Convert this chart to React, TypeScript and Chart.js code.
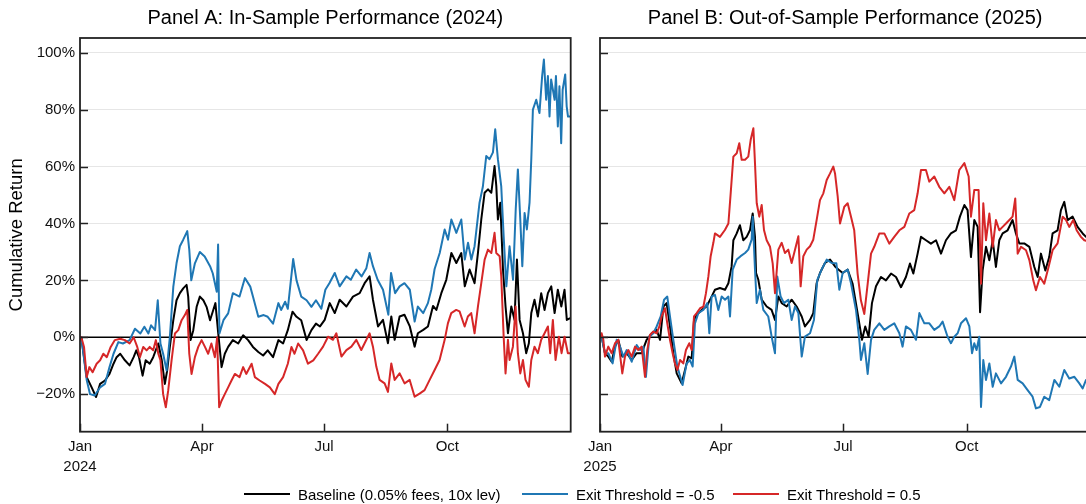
import React, { useEffect, useRef } from 'react';
import { Chart, registerables } from 'chart.js';

Chart.register(...registerables);

const FONT = '"Liberation Sans", Arial, Helvetica, sans-serif';
const BLACK = '#000000';
const BLUE = '#1f77b4';
const RED = '#d62728';

const seriesNames = ['Baseline (0.05% fees, 10x lev)', 'Exit Threshold = -0.5', 'Exit Threshold = 0.5'];

// ---------- Panel A (2024), x = day of year ----------
const aBaseDays = [0,1,5,8.7,12,15,18.6,22,25,27.3,30,33.5,37,40,42,44,46.7,49,52,54.6,58.4,61,63.3,65,67,69.6,72,74.5,77,79.5,80.7,82.5,84.5,87,89.4,92,94.4,97,99.4,101,103,105.6,108,110.5,114,118,121.7,125.4,129,133,136.6,140,144,148,151.5,155,158.5,161.5,165,169,172.6,176,179,182.5,186.3,190,193.7,198.7,203.6,208.6,212.3,216,218.5,222.3,226,229.7,232.2,234.7,238.4,242,246,249.6,252,256,259.5,263.3,265.8,269.5,273.2,277,280.7,284.4,287,290.6,294.3,296.8,299.3,301.8,304.3,306.8,309.2,310.5,311.7,313.5,315.5,317.4,319.2,321.7,324.1,325.9,327.9,330.4,332.8,334.8,336.6,339,341.5,344,346.5,349,351.5,354,356.4,359,361.4,363.1,365.6];
const aBaseVals = [0,0,-14,-17.6,-21,-16.4,-15.2,-12.9,-9.3,-7,-5.8,-8.1,-9.9,-7,-4.6,-7,-13.5,-8.1,-9.3,-7,-2.2,-8.1,-16.4,-11.7,-3.4,6,13,15.5,17.2,18.4,14.3,-1,2.5,10.7,14.3,13,10.7,6,9.6,12,1.9,-10.5,-5.8,-3.4,-1,-2.2,0.7,-1,-3.4,-5.2,-6.4,-4.6,-7,-1,-2.2,2.5,9,7.2,6,-1,2.5,4.8,3.8,6.1,12,8.5,13.2,10.8,14.3,15.5,19,21.4,13.2,3.8,6.1,-2.1,7.3,-0.9,7.3,7.9,3.8,-3.3,1.4,2.6,3.8,11,9.6,15.5,20.2,29.6,26.1,29.6,17.9,23.8,19,29.6,41.4,50.8,52,50.8,60.2,53.2,41.4,47.3,23.8,10.8,1.4,10.8,6.1,27.3,6.1,1.4,-5.6,-2.1,8.5,13.2,7.3,15.5,9.6,15.5,17.9,8.5,16.7,10.8,16.7,6.1,6.7];

const aBlueDays = [0,1,5,7.5,11,15,18.6,22,25,28.6,32,37,41,45,48,51,53,56,58,60,62,64.6,67,69.6,72,74.5,77,80,81.5,83,85.7,89.4,93,97,99,102,103,104,107,110.5,114,119,123,127,129,133,137,140,144,148,150,153,155,159,161.5,165,169,172.6,176,180,183,186,190,193.7,198.7,202,206,210,213.6,216,218.5,222,226,230,232,235,238.4,242,246,249.6,252,256,259.5,262,264.5,268.3,272,274.5,277,280.7,284.4,287,289.4,291.9,294.3,298,300.5,303,305.5,308,309.7,311.7,314.2,316,318,320.4,323,325,326.6,328.4,329.9,331.6,333.3,335.3,336.6,337.8,340.3,342.7,344.7,346,347.7,349,350.2,351.4,354,355,356.4,357.6,358.9,360,361.9,363,364,365.6];
const aBlueVals = [0,0,-15,-20,-20.5,-17.6,-16.4,-10.5,-5.8,-1.7,-2.2,-1,3,1.3,3.7,1.3,4.2,2.5,13,-2.2,-5.8,-11.7,0,17.8,26,32,34.3,37.3,30.8,20,26,30,28.4,25,22.5,16,32.6,1.3,6,8.4,15.5,14.3,20.8,17.8,14.3,7.2,7.8,7.2,4.8,12,9.6,12.5,10,27.5,20,14.3,13,10.7,13,10,16.7,19,22.6,17.9,21.4,20.2,23.8,21.4,24.3,29.6,25,20.2,16.7,7.9,22.6,15.5,17.9,19,16.7,5.5,10.8,8.5,12,16.7,24,29.6,37.9,34.3,41.4,36.7,41.4,27.3,33.2,27.3,32,47.3,53,63.7,62.6,65,73.1,62.6,53,35.5,17.9,32,20.2,45,59,41.4,25,43.7,37.9,47.3,62.6,80,83.5,78.8,91.8,97.6,83.5,91.8,77.6,90.6,83.5,91.8,74.1,88.2,68.2,87,92.4,81.2,77.6,77.6];

const aRedDays = [0,1,3,5,7,9.4,12.4,15,17.4,20,22.9,26,30,33.5,37,40,42.7,44.7,47.2,49.7,52,54.6,56.6,58.4,60,62,64,65.8,68.3,70.8,73.3,75.8,78.2,80,81.5,83.2,85.7,88.2,90.7,93.2,95.6,98,100.6,102.3,103.8,105.6,108,110.5,113,115.5,119,121.7,124,128,130.4,134,138,141.6,145.3,148,151.5,155,157.7,160,162.7,166.4,170,174,177.6,181.3,185,188.7,191.2,195,198.7,202.4,206.1,209.8,213.6,216,218.5,221,223.5,227.2,229.7,232.2,234.7,238.4,242.1,245.9,249.6,253.3,257,260.8,264.5,268.2,272,274.4,276.9,280.6,283.1,286.9,289.3,291.8,294.3,296.8,299.3,301.8,304.3,306.8,309.2,310.5,313,314.2,316,317.4,319.2,320.4,322.9,324.9,326.6,328.4,330.4,332.3,334.8,336.6,339,341.5,344,346.5,349,350.7,352.7,354.7,357.2,359.2,361.4,363.9,365.6];
const aRedVals = [0,0,-3.4,-14,-10.5,-12.3,-9.3,-8.1,-5.8,-7,-3.4,-1,-0.5,-1,-2.2,0,-3.4,-7,-3.4,-4.6,-3.4,-4.6,-1,-5.8,-8.1,-20,-24.6,-18.7,-8.1,1.3,2.5,6,7.8,9.6,-5.8,-12.9,-7,-3.4,-1,-3.4,-5.8,-2.2,-7,0,-24.6,-22.3,-20,-17.6,-15.2,-12.9,-14,-10.5,-12.9,-9.3,-14,-15.2,-16.4,-17.6,-20,-16.4,-14,-9.3,-3.4,-5.8,-2.2,-4.6,-9.3,-8.1,-5.8,-3.3,0.2,-0.9,1.4,-6.8,-4.5,-3.3,-0.9,-4.5,-0.9,1.4,-3.3,-10.3,-15,-16.2,-19.2,-9.2,-15,-12.7,-16.2,-15,-20.9,-19.8,-18.6,-15,-11.5,-8,-0.9,4.9,8.5,9.6,9.1,3.8,7.3,8.5,1.4,10.8,19,27.3,30.8,29.6,36.7,29.6,28.5,21.4,0.2,-12.7,-0.9,-8,-3.3,10.8,-5.6,-12.7,-8,-15,-17.4,-8,-3.3,-5.6,-0.9,1.4,3.8,-5.6,6.1,-8,0.2,-5.6,0.2,-5.6,-5.6];

// ---------- Panel B (2025), x = day of year ----------
const bBaseDays = [0,1.2,3.7,6.2,8.7,11.2,13.6,16.6,19.9,23.6,27.3,31,34.7,38.5,42.2,44.7,47.2,49.6,52.1,54.6,57.1,60.8,63.3,65.8,68.3,70,72,75.7,79.4,83.1,85.6,89.3,93.1,95.6,98,99.3,101.8,104.2,106.7,109.2,111.7,113.7,115.4,116.2,117.9,120.4,124.1,127.8,130.3,132.8,135.3,139,142.7,146.4,150.2,152.6,156.4,158.8,161.3,163.8,167.5,171.3,175,177.5,180.7,184.4,188.1,191.8,195.1,197.5,200,202.5,205.5,209.2,212.9,216.7,220.4,224.1,227.8,230.8,233.3,236.5,239,242.7,246.4,250.2,253.9,257.6,261.3,265.1,268,271.3,273.7,276.2,278.7,281.2,283,284.9,287.4,289.9,292.4,294.8,297.3,299.8,303.5,307.2,309.7,312.2,315.9,319.7,323.4,325.9,328.3,331.6,334.5,337,340.7,343.2,345.7,348.2,351.9,355.6,359.4,361.9,365];
const bBaseVals = [0,0.2,-5.6,-6.8,-8.6,-3.3,-0.9,-6.8,-5.6,-8,-5.6,-5.6,-0.9,1.4,2.6,-0.9,10.8,12,3.8,-5.6,-12.7,-16.2,-11.5,-6.8,-7.4,6.1,7.9,9.6,10.8,14.3,16.7,17.3,16.7,19,24.9,34.1,36.5,39.4,34.1,35.3,37.7,43.5,35.3,22.6,20.2,13.2,10.8,9.6,6.1,14.3,12,10.8,13.2,10.8,7.3,3.8,6.1,8.5,19,22.6,26.1,27.3,24.9,23.8,22.6,23.8,18.8,8.5,-0.9,3.8,0.2,12,17.9,21.2,20,22.4,21.2,17.6,21.2,25.9,22.4,29.4,35.3,34.1,32.9,34.1,29.4,34.1,36.5,37.6,42.4,46.5,44.7,28.2,41.2,38.8,8.8,23.5,31.8,27.1,34.1,24.7,34.1,36.5,37.6,41.2,36.5,33,33,31.8,24.7,21.2,29.4,23.5,28.2,36.5,37.6,44.7,47.6,41.2,42.4,38.8,36.5,35.3,35];

const bBlueDays = [0,1.2,3.7,6.2,9.4,12.4,14.9,17.4,19.9,23.6,27.3,29.8,32.3,34.2,36.7,39.7,42.2,45.2,47.7,50.1,52.1,54.6,57.6,61.5,64.5,67,69,70.7,73.2,76.9,79.9,81.4,83.1,85.6,88.1,90.6,93.1,95.6,96.8,98.8,101.8,104.7,108,110.4,112.9,113.7,115.4,116.7,119.1,121.6,125.3,127.8,130.3,132,134.5,137,140.2,142.7,145.2,147.7,150.2,152.6,156.4,159.3,161.8,165,168.8,172.5,176,178.2,180.7,184.4,186.9,190.6,193.1,194.3,196.8,199.3,201.8,204.2,208,211.7,215.4,219.1,222.9,225.3,227.8,231.5,235.3,237.8,241.5,245.2,248.9,252.6,255.1,258.8,261.3,263.8,266.3,268.8,272.5,275,277,278.7,280.4,282.4,283.7,285.4,287.4,289.9,292.4,294.8,298.6,302.3,306,308.5,311,314.7,318.4,322.1,324.6,327.6,330.8,334.5,338.3,342,345.7,349.4,353.2,356.9,359.4,361.9,365];
const bBlueVals = [0,0.2,-5.6,-5.6,-9.2,-0.9,-3.3,-6.8,-4.5,-8.6,-2.7,-4.5,-3.3,-13.9,0.2,1.4,3.8,7.3,13.2,14.3,7.3,-0.9,-10.3,-16.8,-9.2,-8,-10.3,4.9,8.5,9.6,12,1.4,14.3,14.9,9.6,14.3,13.2,14.3,7.3,23.8,27.3,28.5,29.6,30.8,34.3,42.4,23.8,12,16.7,9.6,7.3,0.2,-5.6,21.4,14.3,12,13.2,6.1,10.8,8.5,-6.8,0.2,1.4,6.1,20.2,23.8,27.3,26.1,26,16.7,22.6,23.8,19,9.6,-0.9,-8,-2.1,-12.9,-0.9,2.6,4.9,2.6,3.8,4.9,1.4,-3.3,3.8,2.6,-0.9,8.5,4.9,4.9,2.6,3.8,5.5,0.2,-2.1,0.2,1.4,4.9,6.7,3.8,-5.6,-2.1,-4.5,0.2,-24.5,-8,-15,-9.2,-17.4,-12.7,-16.2,-13.9,-10.3,-6.8,-15,-16.2,-18.6,-20.9,-25,-24.5,-20.9,-22.1,-15,-17.4,-11.5,-14.5,-13.9,-16.2,-18,-15,-16];

const bRedDays = [0,1.2,2.5,3.7,6.2,8.7,11.2,13.6,16.6,18.6,21.1,23.6,26.1,28.5,31,33.5,35.2,37.2,39.7,42.2,44.2,45.9,48.4,50.1,52.1,54.1,55.8,57.6,59.6,62,64,66.5,68.3,70,72,74.5,77,78.9,80.7,82.4,84.4,85.6,89.3,93,95.6,97.3,99.3,101.8,103.7,105.5,108,110.4,112.2,114.2,115.4,116.7,118.6,120.4,122.1,124.1,126.6,128.6,130.3,132.8,135.3,137.7,140.2,142.7,145.2,147.7,149.4,151.4,153.9,156.4,158.8,161.3,163.8,166.3,168.8,171.3,173.7,175,177,178.7,181.9,184.4,186.9,189.3,191.8,194.3,196.8,199.3,201.8,204.2,208,211.7,215.4,219.1,222.9,226.6,230.3,234,236.5,239,242.7,245.2,248.9,252.6,256.4,260.1,263.8,267.5,271.3,274.5,276.2,278.7,281.9,283.7,285.4,287.4,289.9,292.4,294.8,297.3,299.8,302.3,304.8,307.2,309.2,311,313.5,317.2,319.7,322.6,324.6,327.6,330.8,334,337,340.7,344.5,347,349.4,352.4,354.9,358.1,360.6,365];
const bRedVals = [0,1.4,-0.9,-6.8,-3.3,-5.6,-2.1,-0.9,-12.7,-6.8,-4.5,-6.8,-3.3,-4.5,-3.3,-13.9,-4.5,0.8,2,1.4,3.8,7.3,10.2,4.9,-0.9,-5.6,-9.2,-11.5,-8,-9.2,-4.5,-2.1,-4.5,7.3,8.5,10.2,10.8,15.5,21.4,28.5,33.2,36.5,35.3,37.7,40,50.6,63.5,64.7,68.2,62.4,62.4,63.5,69.4,73.5,61.2,47.1,42.4,46.5,37.7,34.1,31.8,25.9,15.5,30.8,33.2,29.6,30.8,26.1,30.8,35.5,17.9,28.5,30.8,32,34.3,41.2,48.2,50.6,55.3,57.6,60,57.6,49.4,40,45.9,47.1,42.4,37.6,22.4,12.9,8.2,18.8,29.4,31.8,36.5,36.5,32.9,35.3,37.6,38.8,43.5,44.7,50.6,58.8,58.8,54.7,56.5,52.9,50.6,52.9,48.2,58.8,61.2,56.5,42.4,51.8,51.8,18.8,47.1,34.1,43.5,31.8,41.2,37.6,38.8,40,41.2,42.4,48.8,29.4,31.8,30.6,27.1,20,16.5,21.2,18.8,24.7,30.6,33,42.4,41.2,38.8,41.2,37.6,35.3,34.1,33.5];

// ---------- axes ----------
const yMin = -33.2;
const yMax = 105.2;
const yTickValues = [-20, 0, 20, 40, 60, 80, 100];
const xTicksA = [0, 91, 182, 274];
const xLabelsA: (string | string[])[] = [['Jan', '2024'], 'Apr', 'Jul', 'Oct'];
const xMaxA = 366;
const xTicksB = [0, 90, 181, 273];
const xLabelsB: (string | string[])[] = [['Jan', '2025'], 'Apr', 'Jul', 'Oct'];
const xMaxB = 365;

const pts = (d: number[], v: number[]) => d.map((x, i) => ({ x, y: v[i] }));

const PLOT_BOTTOM = 431.7;
const CANVAS_H = 504;

const framePlugin = {
  id: 'panelFrame',
  beforeDatasetsDraw(chart: any) {
    const { ctx, chartArea: a } = chart;
    const y0 = chart.scales.y.getPixelForValue(0);
    ctx.save();
    ctx.strokeStyle = '#000';
    ctx.lineWidth = 1.5;
    ctx.beginPath();
    ctx.moveTo(a.left, y0);
    ctx.lineTo(a.right, y0);
    ctx.stroke();
    ctx.restore();
  },
  afterDraw(chart: any, _args: any, opts: any) {
    const { ctx, chartArea: a } = chart;
    ctx.save();
    ctx.strokeStyle = '#222';
    ctx.lineWidth = 1.8;
    ctx.strokeRect(a.left, a.top, a.right - a.left, a.bottom - a.top);
    ctx.lineWidth = 1.5;
    chart.scales.y.ticks.forEach((t: any) => {
      const py = Math.round(chart.scales.y.getPixelForValue(t.value)) + 0.5;
      ctx.beginPath();
      ctx.moveTo(a.left, py);
      ctx.lineTo(a.left + 8, py);
      ctx.stroke();
    });
    chart.scales.x.ticks.forEach((t: any) => {
      const px = Math.round(chart.scales.x.getPixelForValue(t.value)) + 0.5;
      ctx.beginPath();
      ctx.moveTo(px, a.bottom);
      ctx.lineTo(px, a.bottom - 8);
      ctx.stroke();
    });
    ctx.fillStyle = '#000';
    ctx.font = `20px ${FONT}`;
    ctx.textAlign = 'center';
    ctx.textBaseline = 'alphabetic';
    ctx.fillText(opts.title, (a.left + a.right) / 2, 24);
    ctx.restore();
  },
};

type PanelProps = {
  title: string;
  left: number;
  width: number;
  yWidth: number;
  padRight: number;
  showY: boolean;
  xMax: number;
  xTicks: number[];
  xLabels: (string | string[])[];
  base: { x: number; y: number }[];
  blue: { x: number; y: number }[];
  red: { x: number; y: number }[];
};

function Panel(p: PanelProps) {
  const ref = useRef<HTMLCanvasElement>(null);
  useEffect(() => {
    if (!ref.current) return;
    const line = (label: string, data: any, color: string, order: number) => ({
      label,
      data,
      borderColor: color,
      backgroundColor: color,
      borderWidth: 2,
      pointRadius: 0,
      tension: 0,
      borderJoinStyle: 'round' as const,
      order,
    });
    const chart = new Chart(ref.current, {
      type: 'line',
      data: {
        datasets: [
          line(seriesNames[0], p.base, BLACK, 3),
          line(seriesNames[1], p.blue, BLUE, 2),
          line(seriesNames[2], p.red, RED, 1),
        ],
      },
      options: {
        animation: false,
        responsive: false,
        devicePixelRatio: 1,
        layout: { padding: { top: 38, right: p.padRight, left: 0, bottom: 0 } },
        plugins: {
          legend: { display: false },
          tooltip: { enabled: false },
          title: { display: false },
          panelFrame: { title: p.title },
        } as any,
        scales: {
          x: {
            type: 'linear',
            min: 0,
            max: p.xMax,
            grid: { display: false, drawTicks: false },
            border: { display: false },
            afterBuildTicks: (s: any) => {
              s.ticks = p.xTicks.map((v) => ({ value: v }));
            },
            afterFit: (s: any) => {
              s.height = CANVAS_H - PLOT_BOTTOM;
            },
            ticks: {
              autoSkip: false,
              maxRotation: 0,
              minRotation: 0,
              padding: 5,
              color: '#111',
              font: { family: FONT, size: 15, lineHeight: 1.3333 },
              callback: (v: any) => {
                const i = p.xTicks.indexOf(Number(v));
                return i >= 0 ? p.xLabels[i] : '';
              },
            },
          },
          y: {
            type: 'linear',
            min: yMin,
            max: yMax,
            grid: { color: '#e6e6e6', lineWidth: 1, drawTicks: false },
            border: { display: false },
            afterBuildTicks: (s: any) => {
              s.ticks = yTickValues.map((v) => ({ value: v }));
            },
            afterFit: (s: any) => {
              s.width = p.yWidth;
            },
            ticks: {
              display: p.showY,
              padding: 5,
              color: '#111',
              font: { family: FONT, size: 15 },
              callback: (v: any) => {
                const n = Number(v);
                return (n < 0 ? '\u2212' + Math.abs(n) : String(n)) + '%';
              },
            },
            title: {
              display: p.showY,
              text: 'Cumulative Return',
              color: '#000',
              font: { family: FONT, size: 18.5, lineHeight: 1.2 },
              padding: { top: 6, bottom: 0 },
            },
          },
        },
      },
      plugins: [framePlugin as any],
    });
    return () => chart.destroy();
  }, []);
  return (
    <canvas
      ref={ref}
      width={p.width}
      height={CANVAS_H}
      style={{ position: 'absolute', left: p.left, top: 0, width: p.width, height: CANVAS_H }}
    />
  );
}

const legendItems = [
  { label: seriesNames[0], color: BLACK, left: 244 },
  { label: seriesNames[1], color: BLUE, left: 522 },
  { label: seriesNames[2], color: RED, left: 733 },
];

export default function App() {
  return (
    <div
      style={{
        position: 'fixed',
        left: 0,
        top: 0,
        width: 1086,
        height: 504,
        overflow: 'hidden',
        background: '#fff',
      }}
    >
      <Panel
        title="Panel A: In-Sample Performance (2024)"
        left={0}
        width={590}
        yWidth={80}
        padRight={19.3}
        showY={true}
        xMax={xMaxA}
        xTicks={xTicksA}
        xLabels={xLabelsA}
        base={pts(aBaseDays, aBaseVals)}
        blue={pts(aBlueDays, aBlueVals)}
        red={pts(aRedDays, aRedVals)}
      />
      <Panel
        title="Panel B: Out-of-Sample Performance (2025)"
        left={575}
        width={527}
        yWidth={25}
        padRight={11.8}
        showY={false}
        xMax={xMaxB}
        xTicks={xTicksB}
        xLabels={xLabelsB}
        base={pts(bBaseDays, bBaseVals)}
        blue={pts(bBlueDays, bBlueVals)}
        red={pts(bRedDays, bRedVals)}
      />
      {legendItems.map((it) => (
        <div
          key={it.label}
          style={{
            position: 'absolute',
            left: it.left,
            top: 484,
            height: 20,
            display: 'flex',
            alignItems: 'center',
            whiteSpace: 'nowrap',
            font: `15px ${FONT}`,
            color: '#000',
          }}
        >
          <span style={{ display: 'inline-block', width: 46, height: 2, background: it.color, marginRight: 8 }} />
          <span>{it.label}</span>
        </div>
      ))}
    </div>
  );
}
